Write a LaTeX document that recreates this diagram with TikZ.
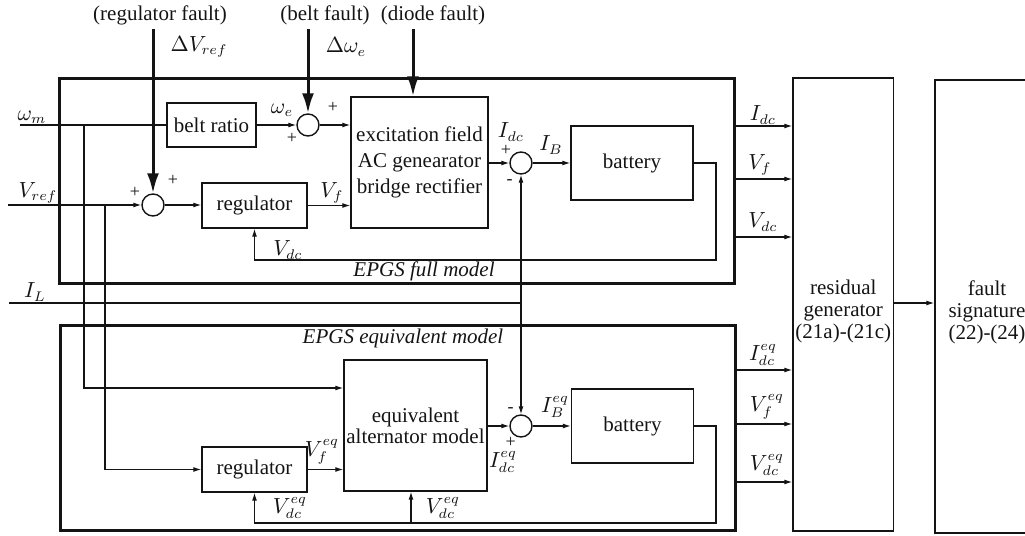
\documentclass[tikz,border=0pt]{standalone}
\usepackage{amsmath,amssymb}
\usepackage{fontspec}
\setmainfont{Liberation Serif}
\usetikzlibrary{arrows.meta,positioning,calc}
\definecolor{inkBlack}{RGB}{20, 20, 20}
\tikzset{
  blk/.style={draw=inkBlack, line width=0.7pt, inner sep=1pt, align=center},
  sumnode/.style={draw=inkBlack, circle, line width=0.7pt, minimum size=11pt, inner sep=0pt},
  frame/.style={draw=inkBlack, line width=1.5pt, inner sep=0pt},
  wire/.style={draw=inkBlack, line width=0.6pt},
  sig/.style={wire, -{Latex[length=4pt,width=2.5pt]}},
  fault/.style={draw=inkBlack, line width=1.5pt, -{Latex[length=10pt,width=6pt]}},
  lbl/.style={inner sep=0pt},
  sgn/.style={inner sep=0pt, font=\fontsize{9pt}{10pt}\selectfont},
  boxtext/.style={align=center, inner sep=0pt, font=\fontsize{10.5pt}{11pt}\selectfont},
}

\begin{document}
\begin{tikzpicture}[x=0.5pt, y=-0.5pt, every node/.style={font=\fontsize{10.5pt}{13pt}\selectfont, text=inkBlack}]
\useasboundingbox (0,0) rectangle (1025,536);

% model frames
\node[frame, minimum width=337.5pt, minimum height=102.5pt] (full) at (397,180.5) {};
\node[frame, minimum width=337.5pt, minimum height=102.5pt] (equiv) at (397.5,427.5) {};
\node[lbl] (fullname) at (424,271) {\textit{EPGS full model}};
\node[lbl] (equivname) at (403,338) {\textit{EPGS equivalent model}};

% full model blocks
\node[blk, minimum width=44.5pt, minimum height=22pt] (belt) at (211.5,125) {belt ratio};
\node[sumnode] (sum1) at (308,125) {};
\node[sumnode] (sum2) at (153,205) {};
\node[blk, minimum width=52.5pt, minimum height=22.5pt] (reg1) at (254.5,205.5) {regulator};
\node[blk, minimum width=68.5pt, minimum height=65.5pt] (exc) at (419.5,162.5)
  {excitation field\\AC genearator\\bridge rectifier};
\node[sumnode] (sum3) at (521,163) {};
\node[blk, minimum width=61pt, minimum height=37pt] (bat1) at (632,163) {battery};

% equivalent model blocks
\node[blk, minimum width=71.5pt, minimum height=65.5pt, font=\fontsize{10.5pt}{10.5pt}\selectfont] (eqalt) at (415.5,425.5)
  {equivalent\\alternator model};
\node[blk, minimum width=52.5pt, minimum height=22.5pt] (reg2) at (254.5,469.5) {regulator};
\node[sumnode] (sum4) at (521,426) {};
\node[blk, minimum width=61pt, minimum height=37pt] (bat2) at (632.5,426) {battery};

% diagnosis blocks
\node[blk, minimum width=50.3pt, minimum height=226.5pt,
  label={[boxtext, yshift=-3.5pt]center:residual\\generator\\(21a)-(21c)}] (resid) at (843.3,304.5) {};
\node[blk, minimum width=70pt, minimum height=226.5pt,
  label={[boxtext, xshift=-9pt, yshift=-2.75pt]center:fault\\signature\\(22)-(24)}] (fsig) at (1005,306.5) {};

% faults
\coordinate (rf) at (153,29);
\coordinate (bf) at (308,29);
\coordinate (df) at (413,29);
\node[lbl] (rfname) at (160,15) {(regulator fault)};
\node[lbl] (bfname) at (325,15) {(belt fault)};
\node[lbl] (dfname) at (433,15) {(diode fault)};
\node[lbl] (dvref) at (199,47) {$\Delta V_{ref}$};
\node[lbl] (dwe) at (346,47) {$\Delta\omega_e$};
\draw[fault] (rf) -- (sum2.north);
\draw[fault] (bf) -- (sum1.north);
\draw[fault] (df) -- (df |- exc.north);

% inputs
\coordinate (wm) at (20,125);
\coordinate (wbr) at (84,125);
\coordinate (vr) at (8,205);
\coordinate (vbr) at (105,205);
\coordinate (il) at (9,303);
\coordinate (iltap) at (521,303);
\node[lbl] (wmname) at (32,117) {$\omega_m$};
\node[lbl] (vrname) at (38,193) {$V_{ref}$};
\node[lbl] (ilname) at (35,292) {$I_L$};
\draw[wire] (wm) -- (belt.west);
\draw[sig] (vr) -- (sum2.west);
\draw[sig] (wbr) |- ([yshift=18.75pt]eqalt.west);
\draw[sig] (vbr) |- (reg2.west);
\draw[wire] (il) -- (iltap);
\draw[sig] (iltap) -- (sum3.south);
\draw[sig] (iltap) -- (sum4.north);

% full model signals
\draw[sig] (belt.east) -- (sum1.west);
\draw[sig] (sum1.east) -- (sum1.east -| exc.west);
\draw[sig] (sum2.east) -- (sum2.east -| reg1.west);
\draw[sig] (reg1.east) -- (reg1.east -| exc.west);
\draw[sig] (exc.east |- sum3) -- (sum3.west);
\draw[sig] (sum3.east) -- (bat1.west);
\coordinate (fb1) at (716,260);
\draw[sig] (bat1.east) -| (fb1) -| (reg1.south);
\node[lbl] (we) at (282,110) {$\omega_e$};
\node[lbl] (vf) at (332,193) {$V_f$};
\node[lbl] (vdc) at (288,250) {$V_{dc}$};
\node[lbl] (idc) at (511,132) {$I_{dc}$};
\node[lbl] (ib) at (551,145) {$I_B$};
\node[sgn] (s1a) at (333,107) {+};
\node[sgn] (s1b) at (292,138) {+};
\node[sgn] (s2a) at (135,192) {+};
\node[sgn] (s2b) at (173,180) {+};
\node[sgn] (s3a) at (506,150) {+};
\node[sgn] (s3b) at (509.5,182) {-};

% equivalent model signals
\draw[sig] (reg2.east) -- (reg2.east -| eqalt.west);
\draw[sig] (eqalt.east |- sum4) -- (sum4.west);
\draw[sig] (sum4.east) -- (bat2.west);
\coordinate (fb2) at (716,523);
\coordinate (tap) at (411,523);
\draw[sig] (bat2.east) -| (fb2) -| (reg2.south);
\draw[sig] (tap) -- (tap |- eqalt.south);
\node[lbl] (vfeq) at (322,452) {$V_f^{eq}$};
\node[lbl] (vdceqa) at (290,508) {$V_{dc}^{eq}$};
\node[lbl] (vdceqb) at (443,508) {$V_{dc}^{eq}$};
\node[lbl] (idceq) at (503,462) {$I_{dc}^{eq}$};
\node[lbl] (ibeq) at (555,407) {$I_B^{eq}$};
\node[sgn] (s4a) at (510.6,410) {-};
\node[sgn] (s4b) at (510.6,442) {+};

% outputs
\coordinate (o1) at (734.5,126);
\coordinate (o2) at (734.5,179);
\coordinate (o3) at (734.5,237);
\coordinate (o4) at (734.5,370);
\coordinate (o5) at (734.5,424);
\coordinate (o6) at (734.5,482);
\draw[sig] (o1) -- (o1 -| resid.west);
\draw[sig] (o2) -- (o2 -| resid.west);
\draw[sig] (o3) -- (o3 -| resid.west);
\draw[sig] (o4) -- (o4 -| resid.west);
\draw[sig] (o5) -- (o5 -| resid.west);
\draw[sig] (o6) -- (o6 -| resid.west);
\node[lbl] (oidc) at (763,115) {$I_{dc}$};
\node[lbl] (ovf) at (760,165) {$V_f$};
\node[lbl] (ovdc) at (763,222) {$V_{dc}$};
\node[lbl] (oidceq) at (763,355) {$I_{dc}^{eq}$};
\node[lbl] (ovfeq) at (767,407) {$V_f^{eq}$};
\node[lbl] (ovdceq) at (767,465) {$V_{dc}^{eq}$};
\draw[sig] ([yshift=0.75pt]resid.east) -- ([yshift=0.75pt]resid.east -| fsig.west);
\end{tikzpicture}
\end{document}
